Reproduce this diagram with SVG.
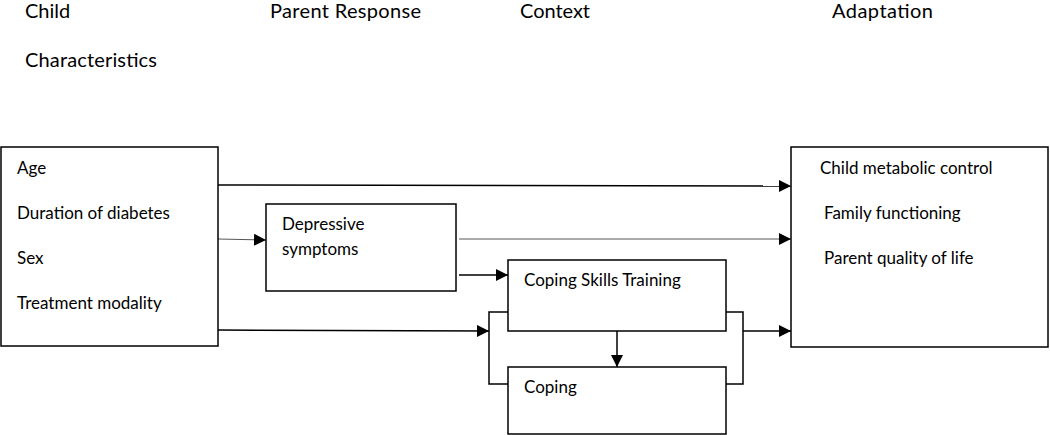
<svg xmlns="http://www.w3.org/2000/svg" width="1050" height="435" viewBox="0 0 1050 435">
<style>
  .box { fill: #fff; stroke: #000; stroke-width: 1.5; }
  .h { font-family: Lato, "Liberation Sans", sans-serif; font-size: 20px; fill: #000; }
  .t { font-family: Lato, "Liberation Sans", sans-serif; font-size: 17px; fill: #000; }
  .c { fill: none; stroke: #000; stroke-width: 1.5; }
  .thin { fill: none; stroke: #555; stroke-width: 1; }
</style>
<defs>
  <marker id="arr" markerUnits="userSpaceOnUse" markerWidth="14" markerHeight="12" refX="12" refY="6" orient="auto">
    <path d="M0,0 L12,6 L0,12 Z" fill="#000"/>
  </marker>
</defs>
<g id="headings">
  <text class="h" x="25" y="18">Child</text>
  <text class="h" x="25" y="67" textLength="132">Characteristics</text>
  <text class="h" x="270" y="18" textLength="151">Parent Response</text>
  <text class="h" x="520" y="18" textLength="70">Context</text>
  <text class="h" x="832" y="18" textLength="101">Adaptation</text>
</g>
<g id="connectors">
  <line class="c" x1="218" y1="185" x2="791" y2="186" marker-end="url(#arr)"/>
  <line class="thin" x1="218" y1="239" x2="266" y2="240" marker-end="url(#arr)"/>
  <line class="thin" x1="459" y1="239" x2="791" y2="239" marker-end="url(#arr)"/>
  <line class="c" x1="459" y1="275" x2="508" y2="275" marker-end="url(#arr)"/>
  <line class="c" x1="218" y1="330" x2="489" y2="331" marker-end="url(#arr)"/>
  <polyline class="c" points="508,312 489,312 489,384 508,384"/>
  <polyline class="c" points="726,312 743,312 743,384 726,384"/>
  <line class="c" x1="743" y1="331" x2="791" y2="331" marker-end="url(#arr)"/>
  <line class="c" x1="617" y1="331" x2="617" y2="367" marker-end="url(#arr)"/>
</g>
<g id="child">
  <rect class="box" x="1" y="147" width="217" height="199"/>
  <text class="t" x="17" y="174">Age</text>
  <text class="t" x="17" y="219">Duration of diabetes</text>
  <text class="t" x="17" y="264">Sex</text>
  <text class="t" x="17" y="309">Treatment modality</text>
</g>
<g id="depressive">
  <rect class="box" x="266" y="204" width="190" height="87"/>
  <text class="t" x="282" y="230">Depressive</text>
  <text class="t" x="282" y="255">symptoms</text>
</g>
<g id="cst">
  <rect class="box" x="508" y="260" width="218" height="71"/>
  <text class="t" x="524" y="286">Coping Skills Training</text>
</g>
<g id="coping">
  <rect class="box" x="508" y="367" width="218" height="67"/>
  <text class="t" x="524" y="393">Coping</text>
</g>
<g id="adaptation">
  <rect class="box" x="791" y="147" width="257" height="200"/>
  <text class="t" x="820" y="174">Child metabolic control</text>
  <text class="t" x="824" y="219">Family functioning</text>
  <text class="t" x="824" y="264">Parent quality of life</text>
</g>
</svg>
